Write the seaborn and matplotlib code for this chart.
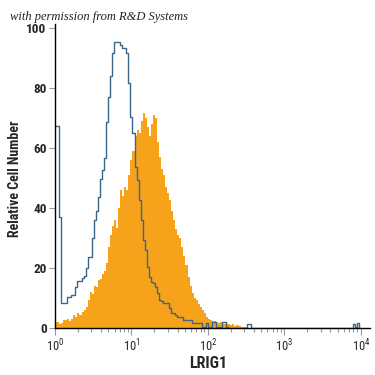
import numpy as np
import pandas as pd
import seaborn as sns
import matplotlib
matplotlib.use("Agg")
import matplotlib.pyplot as plt
from matplotlib.ticker import LogLocator, FixedLocator

# ---- data (log10 bin grid from 10^0 to 10^4, 150 bins) ----
n_bins = 150
log_edges = list(np.linspace(0, 4, n_bins + 1))

isotype = [67.4, 67.4, 36.9, 8.2, 8.2, 8.2, 10.4, 10.4, 10.9, 10.9,
           13.8, 15.8, 15.8, 16.8, 17.5, 19.9, 23.6, 23.6, 29.9, 36.0,
           39.1, 43.8, 49.6, 52.7, 56.6, 68.8, 77.1, 84.0, 91.6, 95.4,
           95.4, 95.4, 94.3, 93.2, 93.2, 91.6, 81.6, 70.4, 64.9, 53.8,
           49.3, 42.7, 36.0, 29.3, 26.0, 20.4, 17.1, 15.5, 14.9, 13.8,
           11.6, 9.3, 9.0, 8.5, 8.2, 8.2, 6.6, 4.9, 4.9, 4.3,
           3.8, 3.8, 3.8, 2.7, 2.7, 2.7, 2.7, 1.6, 1.6, 1.6,
           1.6, 1.6, 0.5, 0.5, 1.6, 0.5, 0.5, 2.0, 2.0, 0.5,
           0.5, 0.5, 2.0, 2.0, 0.3, 0, 0, 0, 0, 0,
           0, 0, 0, 0, 1.5, 1.5] + [0] * 50 + [1.2, 0.3, 1.8, 0]

lrig1 = [2.1, 2.0, 1.5, 1.8, 2.6, 2.6, 3.0, 2.5, 3.0, 4.3,
         3.8, 5.0, 4.5, 5.5, 6.0, 7.0, 9.5, 12.0, 11.5, 14.0,
         13.8, 16.0, 16.5, 18.0, 19.0, 21.6, 27.0, 31.0, 34.0, 36.0,
         33.5, 40.0, 46.0, 44.0, 47.0, 46.0, 51.0, 56.0, 59.0, 64.0,
         66.0, 65.0, 69.0, 71.6, 70.0, 67.0, 64.0, 68.0, 71.0, 70.0,
         62.0, 57.0, 53.0, 51.0, 47.0, 45.0, 42.7, 39.0, 36.0, 33.0,
         31.0, 30.0, 27.0, 24.0, 21.0, 17.0, 14.0, 11.6, 10.0, 9.3,
         8.0, 7.0, 6.0, 5.0, 3.8, 3.0, 2.8, 2.5, 2.5, 2.0,
         1.8, 2.0, 1.5, 1.5, 1.2, 1.5, 1.0, 1.2, 0.8, 1.0,
         0.6, 0.5, 0.4, 0.3]
lrig1 = lrig1 + [0] * (n_bins - len(lrig1))

y_ticks = [0, 20, 40, 60, 80, 100]
x_label = "LRIG1"
y_label = "Relative Cell Number"
credit = "with permission from R&D Systems"

centers = [10 ** ((log_edges[i] + log_edges[i + 1]) / 2) for i in range(n_bins)]
df = pd.DataFrame({"x": centers, "isotype": isotype, "lrig1": lrig1})

# ---- figure ----
sns.set_style("white")
plt.rcParams["font.family"] = ["Roboto Condensed", "Liberation Sans Narrow",
                               "Roboto", "DejaVu Sans"]
fig = plt.figure(figsize=(3.75, 3.75), dpi=100)
ax = fig.add_axes([0.1467, 0.1253, 0.84, 0.812])

sns.histplot(data=df, x="x", weights="lrig1", bins=log_edges, log_scale=True,
             element="step", fill=True, color="#f7a21b", alpha=1.0,
             linewidth=0, ax=ax)
sns.histplot(data=df, x="x", weights="isotype", bins=log_edges, log_scale=True,
             element="step", fill=False, color="#3b6788", linewidth=1.0,
             ax=ax)

ax.set_xlim(1, 10 ** 4.12)
ax.set_ylim(0, 101.5)
ax.yaxis.set_major_locator(FixedLocator(y_ticks))
ax.xaxis.set_major_locator(LogLocator(base=10, numticks=10))
ax.xaxis.set_minor_locator(LogLocator(base=10, subs=np.arange(2, 10), numticks=20))

for s in ["top", "right"]:
    ax.spines[s].set_visible(False)
for s in ["left", "bottom"]:
    ax.spines[s].set_color("black")
    ax.spines[s].set_linewidth(1.0)

ax.tick_params(axis="y", which="major", direction="out", length=4, width=0.8,
               color="#999999", labelsize=9.5, pad=2, left=True)
ax.tick_params(axis="x", which="major", direction="out", length=5, width=0.8,
               color="#999999", labelsize=9, pad=2, bottom=True)
ax.tick_params(axis="x", which="minor", direction="out", length=3, width=0.8,
               color="#999999", bottom=True)
for lab in ax.get_yticklabels():
    lab.set_fontweight("bold")

ax.set_xlabel(x_label, fontsize=11.5, fontweight="bold")
ax.set_ylabel(y_label, fontsize=10, fontweight="bold")
ax.xaxis.set_label_coords(0.485, -0.092)
ax.yaxis.set_label_coords(-0.106, 0.49)

fig.text(0.027, 0.955, credit, fontsize=9, style="italic",
         family=["Liberation Serif", "DejaVu Serif"], color="#222222",
         va="center", ha="left")

fig.savefig("out.png", dpi=100)
